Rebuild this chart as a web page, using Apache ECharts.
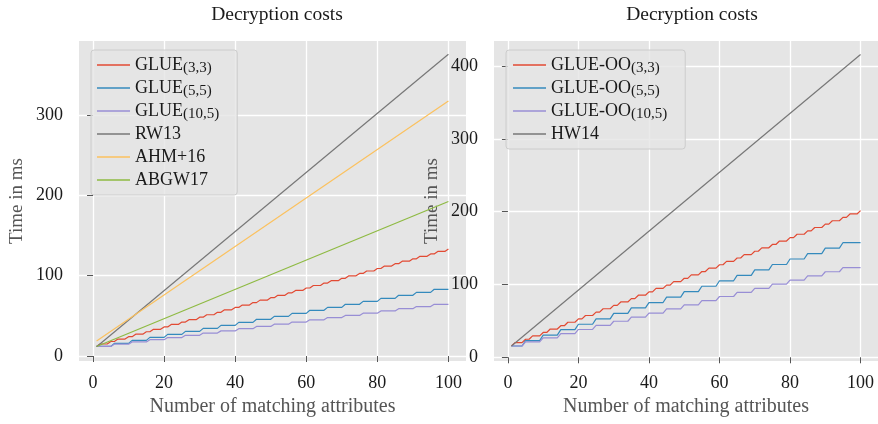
<!DOCTYPE html>
<html>
<head>
<meta charset="utf-8">
<script src="https://cdn.jsdelivr.net/npm/echarts@6/dist/echarts.min.js"></script>
<style>
    html, body { margin: 0; padding: 0; background: #fff; }
    #chart { width: 878px; height: 424px; }
</style>
</head>
<body>
<div id="chart"></div>
<script>
    // tick labels
    const xTicks = [0, 20, 40, 60, 80, 100];
    const yTicksLeft = [0, 100, 200, 300];
    const yTicksRight = [0, 100, 200, 300, 400];

    // straight lines, [attributes, ms]
    const rw13 = [[1, 11.6], [100, 375.7]];
    const ahm16 = [[1, 18.7], [100, 317.6]];
    const abgw17 = [[1, 11.8], [100, 192.5]];
    const hw14 = [[1, 15.5], [100, 416]];

    // stair lines: x where each rise starts, and the plateau levels (ms)
    const glue33Rises = [1, 4, 6, 9, 11, 14, 16, 19, 21, 24, 26, 29, 31, 34, 36, 39, 41, 44, 46, 49,
        51, 54, 56, 59, 61, 64, 66, 69, 71, 74, 76, 79, 81, 84, 86, 89, 91, 94, 96, 99];
    const glue33Levels = [12.0, 15.0, 18.1, 21.1, 24.1, 27.2, 30.2, 33.2, 36.2, 39.3, 42.3, 45.3, 48.4,
        51.4, 54.4, 57.5, 60.5, 63.5, 66.5, 69.6, 72.6, 75.6, 78.7, 81.7, 84.7, 87.8, 90.8, 93.8, 96.8,
        99.9, 102.9, 105.9, 109.0, 112.0, 115.0, 118.1, 121.1, 124.1, 127.1, 130.2, 133.2];

    const glue55Rises = [5, 10, 15, 20, 25, 30, 35, 40, 45, 50, 55, 60, 65, 70, 75, 80, 85, 90, 95];
    const glue55Levels = [12.0, 15.7, 19.5, 23.2, 27.0, 30.7, 34.4, 38.2, 41.9, 45.7, 49.4, 53.1, 56.9,
        60.6, 64.4, 68.1, 71.8, 75.6, 79.3, 83.1];

    const glue105Rises = [5, 10, 15, 20, 25, 30, 35, 40, 45, 50, 55, 60, 65, 70, 75, 80, 85, 90, 95];
    const glue105Levels = [12.0, 14.8, 17.5, 20.3, 23.0, 25.8, 28.6, 31.3, 34.1, 36.8, 39.6, 42.3, 45.1,
        47.9, 50.6, 53.4, 56.1, 58.9, 61.6, 64.4];

    const oo33Rises = [1, 4, 6, 9, 11, 14, 16, 19, 21, 24, 26, 29, 31, 34, 36, 39, 41, 44, 46, 49,
        51, 54, 56, 59, 61, 64, 66, 69, 71, 74, 76, 79, 81, 84, 86, 89, 91, 94, 96, 99];
    const oo33Levels = [15.5, 20.2, 24.8, 29.5, 34.1, 38.8, 43.4, 48.1, 52.7, 57.4, 62.0, 66.7, 71.3,
        76.0, 80.6, 85.3, 89.9, 94.6, 99.2, 103.9, 108.5, 113.2, 117.8, 122.5, 127.1, 131.8, 136.4,
        141.1, 145.7, 150.4, 155.0, 159.7, 164.3, 169.0, 173.6, 178.3, 182.9, 187.6, 192.2, 196.9, 201.5];

    const oo55Rises = [4, 9, 14, 19, 24, 29, 34, 39, 44, 49, 54, 59, 64, 69, 74, 79, 84, 89, 94];
    const oo55Levels = [15.5, 23.0, 30.4, 37.9, 45.4, 52.8, 60.3, 67.8, 75.2, 82.7, 90.2, 97.6, 105.1,
        112.6, 120.0, 127.5, 135.0, 142.4, 149.9, 157.4];

    const oo105Rises = [4, 9, 14, 19, 24, 29, 34, 39, 44, 49, 54, 59, 64, 69, 74, 79, 84, 89, 94];
    const oo105Levels = [15.5, 21.2, 26.8, 32.5, 38.2, 43.8, 49.5, 55.1, 60.8, 66.5, 72.1, 77.8, 83.5,
        89.1, 94.8, 100.5, 106.1, 111.8, 117.5, 123.1];

    const font = '"Liberation Serif", "DejaVu Serif", serif';
    const colors = ['#E24A33', '#348ABD', '#988ED5', '#777777', '#FBC15E', '#8EBA42'];

    // corner points of a stair line: flat, then one unit of rise
    function stairs(rises, levels) {
        let pts = [[1, levels[0]]];
        rises.forEach((r, i) => {
            pts.push([r, levels[i]]);
            pts.push([r + 1, levels[i + 1]]);
        });
        pts.push([100, levels[levels.length - 1]]);
        return pts;
    }

    function xAxis(gridIndex) {
        return {
            type: 'value', gridIndex: gridIndex, min: -3.95, max: 104.95,
            axisLine: {show: false},
            axisTick: {show: true, length: 6, customValues: xTicks, lineStyle: {color: '#555555'}},
            axisLabel: {customValues: xTicks, margin: 13, color: '#1a1a1a', fontSize: 18, fontFamily: font},
            splitLine: {show: true, lineStyle: {color: '#ffffff', width: 1.3}},
            name: 'Number of matching attributes', nameLocation: 'middle', nameGap: 36,
            nameTextStyle: {color: '#555555', fontSize: 20, fontFamily: font}
        };
    }

    function yAxis(gridIndex, min, max, ticks) {
        return {
            type: 'value', gridIndex: gridIndex, min: min, max: max,
            axisLine: {show: false},
            axisTick: {show: true, length: 6, customValues: ticks, lineStyle: {color: '#555555'}},
            axisLabel: {customValues: ticks, margin: 16, color: '#1a1a1a', fontSize: 18, fontFamily: font},
            splitLine: {show: true, lineStyle: {color: '#ffffff', width: 1.3}},
            name: 'Time in ms', nameLocation: 'middle', nameGap: 52,
            nameTextStyle: {color: '#555555', fontSize: 19, fontFamily: font}
        };
    }

    function line(name, data, color, idx) {
        return {
            name: name, type: 'line', data: data, xAxisIndex: idx, yAxisIndex: idx,
            symbol: 'none', color: color, lineStyle: {width: 1.2, color: color},
            emphasis: {disabled: true}
        };
    }

    function legend(names, left, padding) {
        return {
            data: names, orient: 'vertical', left: left, top: 50,
            icon: 'rect', itemWidth: 33, itemHeight: 1.3, itemGap: 0, padding: padding,
            backgroundColor: 'rgba(229,229,229,0.8)', borderColor: '#cccccc', borderWidth: 1, borderRadius: 3,
            formatter: function (name) {
                let i = name.indexOf('(');
                if (i < 0) return '{m|' + name + '}{s| }';
                return '{m|' + name.slice(0, i) + '}{s|' + name.slice(i) + '}';
            },
            textStyle: {
                rich: {
                    m: {fontSize: 18, fontFamily: font, color: '#1a1a1a', lineHeight: 22},
                    s: {fontSize: 15, fontFamily: font, color: '#1a1a1a', lineHeight: 22, verticalAlign: 'bottom', padding: [8, 0, 0, 0]}
                }
            }
        };
    }

    let chart = echarts.init(document.getElementById('chart'));
    chart.setOption({
        animation: false,
        title: [
            {text: 'Decryption costs', left: 272, top: 0, textAlign: 'center',
                textStyle: {fontSize: 19.5, fontWeight: 'normal', fontFamily: font, color: '#1a1a1a'}},
            {text: 'Decryption costs', left: 687, top: 0, textAlign: 'center',
                textStyle: {fontSize: 19.5, fontWeight: 'normal', fontFamily: font, color: '#1a1a1a'}}
        ],
        grid: [
            {left: 79, top: 41, width: 387, height: 320, show: true, backgroundColor: '#E5E5E5', borderWidth: 0},
            {left: 494, top: 41, width: 387, height: 320, show: true, backgroundColor: '#E5E5E5', borderWidth: 0}
        ],
        xAxis: [xAxis(0), xAxis(1)],
        yAxis: [yAxis(0, -6.2, 392.3, yTicksLeft), yAxis(1, -5.1, 434.5, yTicksRight)],
        legend: [
            legend(['GLUE(3,3)', 'GLUE(5,5)', 'GLUE(10,5)', 'RW13', 'AHM+16', 'ABGW17'], 91, [3, 18, 4, 6]),
            legend(['GLUE-OO(3,3)', 'GLUE-OO(5,5)', 'GLUE-OO(10,5)', 'HW14'], 506, [3, 18, 4, 7])
        ],
        series: [
            line('GLUE(3,3)', stairs(glue33Rises, glue33Levels), colors[0], 0),
            line('GLUE(5,5)', stairs(glue55Rises, glue55Levels), colors[1], 0),
            line('GLUE(10,5)', stairs(glue105Rises, glue105Levels), colors[2], 0),
            line('RW13', rw13, colors[3], 0),
            line('AHM+16', ahm16, colors[4], 0),
            line('ABGW17', abgw17, colors[5], 0),
            line('GLUE-OO(3,3)', stairs(oo33Rises, oo33Levels), colors[0], 1),
            line('GLUE-OO(5,5)', stairs(oo55Rises, oo55Levels), colors[1], 1),
            line('GLUE-OO(10,5)', stairs(oo105Rises, oo105Levels), colors[2], 1),
            line('HW14', hw14, colors[3], 1)
        ]
    });
</script>
</body>
</html>
